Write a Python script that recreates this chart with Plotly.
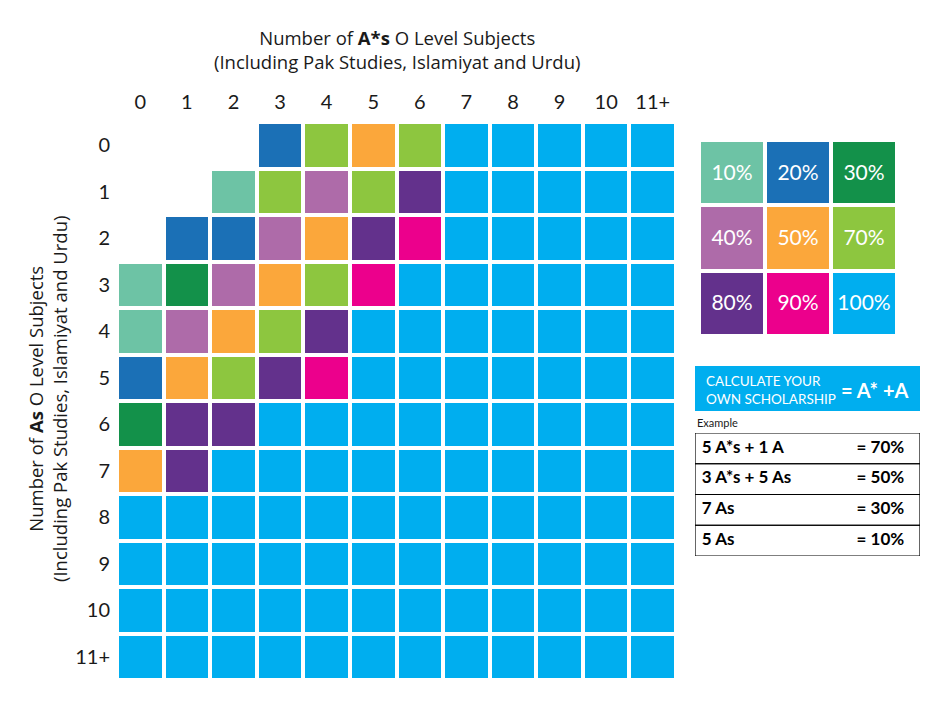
import plotly.graph_objects as go

# scholarship levels and their colours
levels = [10, 20, 30, 40, 50, 70, 80, 90, 100]
level_colors = ["#6DC3A5", "#1B70B6", "#13914A", "#AE6BA9", "#FBA73B",
                "#8DC63F", "#63318C", "#EC008C", "#00AEEF"]

astar_labels = ["0", "1", "2", "3", "4", "5", "6", "7", "8", "9", "10", "11+"]
as_labels = ["0", "1", "2", "3", "4", "5", "6", "7", "8", "9", "10", "11+"]

# scholarship % per row (number of As) and column (number of A*s); None = no award
pct = [
    [None, None, None, 20, 70, 50, 70, 100, 100, 100, 100, 100],
    [None, None, 10, 70, 40, 70, 80, 100, 100, 100, 100, 100],
    [None, 20, 20, 40, 50, 80, 90, 100, 100, 100, 100, 100],
    [10, 30, 40, 50, 70, 90, 100, 100, 100, 100, 100, 100],
    [10, 40, 50, 70, 80, 100, 100, 100, 100, 100, 100, 100],
    [20, 50, 70, 80, 90, 100, 100, 100, 100, 100, 100, 100],
    [30, 80, 80, 100, 100, 100, 100, 100, 100, 100, 100, 100],
    [50, 80, 100, 100, 100, 100, 100, 100, 100, 100, 100, 100],
    [100, 100, 100, 100, 100, 100, 100, 100, 100, 100, 100, 100],
    [100, 100, 100, 100, 100, 100, 100, 100, 100, 100, 100, 100],
    [100, 100, 100, 100, 100, 100, 100, 100, 100, 100, 100, 100],
    [100, 100, 100, 100, 100, 100, 100, 100, 100, 100, 100, 100],
]

# key layout (3x3)
key_levels = [[10, 20, 30], [40, 50, 70], [80, 90, 100]]

example_left = ["5 A*s + 1 A", "3 A*s + 5 As", "7 As", "5 As"]
example_right = ["= 70%", "= 50%", "= 30%", "= 10%"]

FONT = "Lato"
TFONT = "Open Sans"
INK = "#1a1a1a"

n = len(levels)
cscale = [[i / (n - 1), c] for i, c in enumerate(level_colors)]
idx = {v: i for i, v in enumerate(levels)}
z = [[None if v is None else idx[v] for v in row] for row in pct]

fig = go.Figure()
fig.add_trace(go.Heatmap(
    z=z, x=astar_labels, y=as_labels, colorscale=cscale, zmin=0, zmax=n - 1,
    showscale=False, xgap=4, ygap=4, hoverongaps=False,
    customdata=[[("" if v is None else f"{v}%") for v in row] for row in pct],
    hovertemplate="A*s: %{x}<br>As: %{y}<br>%{customdata}<extra></extra>",
    xaxis="x", yaxis="y"))

fig.add_trace(go.Heatmap(
    z=[[idx[v] for v in row] for row in key_levels],
    x=[0, 1, 2], y=[0, 1, 2], colorscale=cscale, zmin=0, zmax=n - 1,
    showscale=False, xgap=4, ygap=4,
    text=[[f"{v}%" for v in row] for row in key_levels],
    texttemplate="%{text}", textfont=dict(family=FONT, size=21, color="white"),
    hoverinfo="skip", xaxis="x2", yaxis="y2"))

# example table rows
rows = list(range(len(example_left)))
fig.add_trace(go.Scatter(
    x=[0.03] * len(rows), y=[r + 0.5 for r in rows], text=example_left,
    mode="text", textposition="middle right",
    textfont=dict(family=FONT, size=17, color="black", weight="bold"),
    hoverinfo="skip", showlegend=False, xaxis="x3", yaxis="y3"))
fig.add_trace(go.Scatter(
    x=[0.93] * len(rows), y=[r + 0.5 for r in rows], text=example_right,
    mode="text", textposition="middle left",
    textfont=dict(family=FONT, size=17, color="black", weight="bold"),
    hoverinfo="skip", showlegend=False, xaxis="x3", yaxis="y3"))
for r in rows:
    fig.add_shape(type="rect", xref="x3", yref="y3", x0=0, x1=1, y0=r, y1=r + 1,
                  line=dict(color="black", width=1.2), fillcolor="rgba(0,0,0,0)")

# the page body has an 8px margin, so lay out in window pixels minus that
OFF = 8
W, H = 944 - 2 * OFF, 728 - 2 * OFF
px = lambda v: (v - OFF) / W
py = lambda v: 1 - (v - OFF) / H

hidden = dict(showgrid=False, zeroline=False, showline=False, showticklabels=False,
              fixedrange=True)

fig.update_layout(
    width=W, height=H, margin=dict(l=0, r=0, t=0, b=0),
    paper_bgcolor="white", plot_bgcolor="white", showlegend=False,
    font=dict(family=FONT, color=INK),
    xaxis=dict(domain=[px(117), px(676)], side="top", showgrid=False, zeroline=False,
               tickfont=dict(size=20, color=INK), ticks="", ticklabelstandoff=8,
               fixedrange=True),
    yaxis=dict(domain=[py(680), py(122)], autorange="reversed", showgrid=False,
               zeroline=False, tickfont=dict(size=20, color=INK), ticks="",
               ticklabelstandoff=6, fixedrange=True),
    xaxis2=dict(domain=[px(699), px(897)], anchor="y2", range=[-0.5, 2.5], **hidden),
    yaxis2=dict(domain=[py(336), py(140)], anchor="x2", range=[2.5, -0.5], **hidden),
    xaxis3=dict(domain=[px(695), px(920)], anchor="y3", range=[0, 1], **hidden),
    yaxis3=dict(domain=[py(556), py(433)], anchor="x3", range=[4, 0], **hidden),
)

# "calculate your own scholarship" banner
fig.add_shape(type="rect", xref="paper", yref="paper", x0=px(695), x1=px(920),
              y0=py(411), y1=py(366), fillcolor="#00AEEF", line_width=0)
fig.add_annotation(xref="paper", yref="paper", x=px(704), y=py(389.5), xanchor="left",
                   yanchor="middle", showarrow=False, align="left",
                   text="CALCULATE YOUR<br>OWN SCHOLARSHIP",
                   font=dict(family=FONT, size=13.5, color="white"))
fig.add_annotation(xref="paper", yref="paper", x=px(911), y=py(390), xanchor="right",
                   yanchor="middle", showarrow=False, text="<b>= A* +A</b>",
                   font=dict(family=FONT, size=20, color="white"))
fig.add_annotation(xref="paper", yref="paper", x=px(695), y=py(422), xanchor="left",
                   yanchor="middle", showarrow=False, text="Example",
                   font=dict(family=FONT, size=11, color=INK))

# axis titles
fig.add_annotation(xref="paper", yref="paper", x=px(397), y=py(49), xanchor="center",
                   yanchor="middle", showarrow=False,
                   text="Number of <b>A*s</b> O Level Subjects<br>"
                        "(Including Pak Studies, Islamiyat and Urdu)",
                   font=dict(family=TFONT, size=18.5, color=INK))
fig.add_annotation(xref="paper", yref="paper", x=px(47), y=py(399), xanchor="center",
                   yanchor="middle", showarrow=False, textangle=-90,
                   text="Number of <b>As</b> O Level Subjects<br>"
                        "(Including Pak Studies, Islamiyat and Urdu)",
                   font=dict(family=TFONT, size=18.5, color=INK))

fig.write_html("out.html")
